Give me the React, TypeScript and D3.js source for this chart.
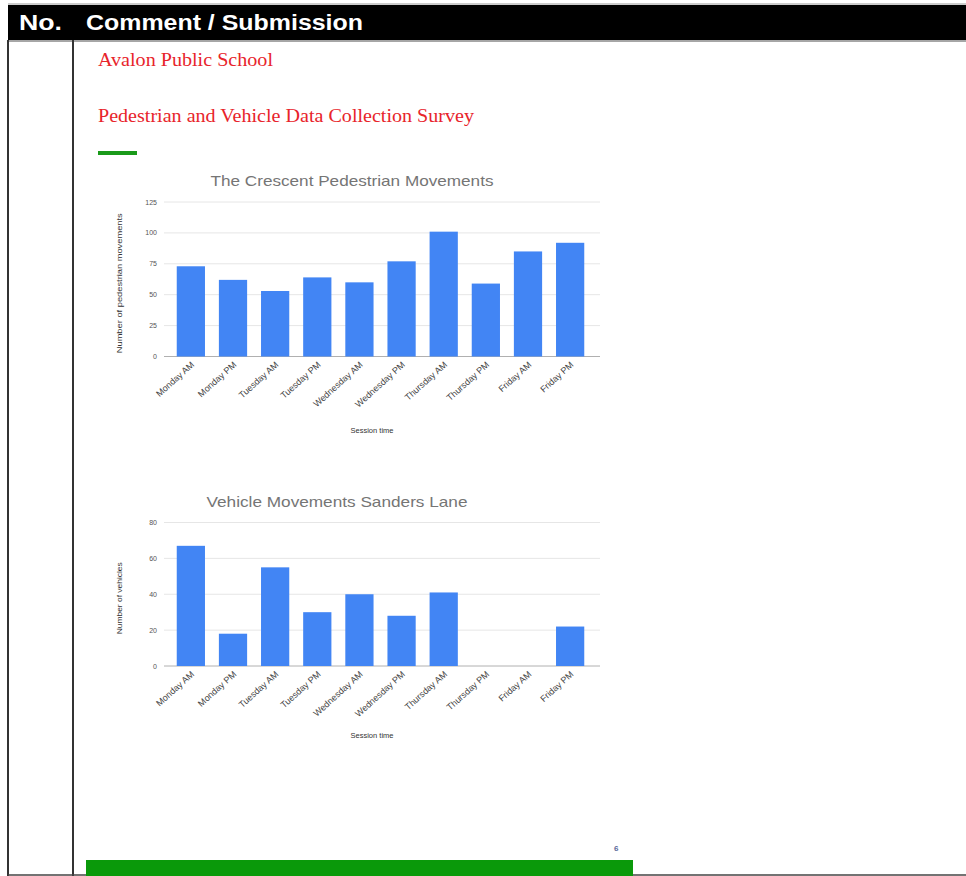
import React from "react";
import * as d3 from "d3";

const sessions = [
  "Monday AM", "Monday PM", "Tuesday AM", "Tuesday PM", "Wednesday AM",
  "Wednesday PM", "Thursday AM", "Thursday PM", "Friday AM", "Friday PM",
];
const pedestrianValues = [73, 62, 53, 64, 60, 77, 101, 59, 85, 92];
const vehicleValues = [67, 18, 55, 30, 40, 28, 41, 0, 0, 22];
const pedestrianTicks = [0, 25, 50, 75, 100, 125];
const vehicleTicks = [0, 20, 40, 60, 80];

const BAR = "#4285F4";

type ChartProps = {
  title: string;
  yTitle: string;
  values: number[];
  ticks: number[];
  yMax: number;
  top: number;
  bottom: number;
  titleX: number;
  titleY: number;
  xTitleY: number;
  titleLen: number;
  yTitleLen: number;
};

function BarChart(p: ChartProps) {
  const x = d3.scaleBand<string>().domain(sessions).range([170, 591]).paddingInner(0.33).paddingOuter(0.16);
  const y = d3.scaleLinear().domain([0, p.yMax]).range([p.bottom, p.top]);
  return (
    <g>
      <text x={p.titleX} y={p.titleY} textAnchor="middle" fontFamily="Liberation Sans, Arial, sans-serif" fontSize={15} fill="#757575" textLength={p.titleLen} lengthAdjust="spacingAndGlyphs">{p.title}</text>
      {p.ticks.map((t) => (
        <g key={t}>
          <line x1={164} x2={600} y1={y(t)} y2={y(t)} stroke={t === 0 ? "#b0b0b0" : "#e6e6e6"} strokeWidth={1} />
          <text x={157} y={y(t) + 2.5} textAnchor="end" fontFamily="Liberation Sans, Arial, sans-serif" fontSize={7} fill="#555">{t}</text>
        </g>
      ))}
      {p.values.map((v, i) => (
        <rect key={sessions[i]} x={x(sessions[i])} width={x.bandwidth()} y={y(v)} height={p.bottom - y(v)} fill={BAR} />
      ))}
      {sessions.map((s) => {
        const cx = (x(s) as number) + x.bandwidth() / 2 + 4;
        const cy = p.bottom + 9;
        return (
          <text key={s} transform={`translate(${cx},${cy}) rotate(-42)`} textAnchor="end" fontFamily="Liberation Sans, Arial, sans-serif" fontSize={9} fill="#444">{s}</text>
        );
      })}
      <text transform={`translate(122,${(p.top + p.bottom) / 2 + 4}) rotate(-90)`} textAnchor="middle" fontFamily="Liberation Sans, Arial, sans-serif" fontSize={7} fill="#333" textLength={p.yTitleLen} lengthAdjust="spacingAndGlyphs">{p.yTitle}</text>
      <text x={372} y={p.xTitleY} textAnchor="middle" fontFamily="Liberation Sans, Arial, sans-serif" fontSize={7.5} fill="#333">Session time</text>
    </g>
  );
}

export default function App() {
  return (
    <svg width={966} height={876} style={{ position: "absolute", left: 0, top: 0, background: "#fff" }}>
      <rect x={0} y={0} width={966} height={876} fill="#fff" />
      {/* header */}
      <line x1={8} x2={966} y1={4} y2={4} stroke="#999" strokeWidth={1} />
      <rect x={8} y={5} width={958} height={35} fill="#000" />
      <line x1={8} x2={966} y1={41} y2={41} stroke="#888" strokeWidth={1.5} />
      <text x={19} y={30} fontFamily="Liberation Sans, Arial, sans-serif" fontWeight="bold" fontSize={22} fill="#fff" textLength={43} lengthAdjust="spacingAndGlyphs">No.</text>
      <text x={86} y={30} fontFamily="Liberation Sans, Arial, sans-serif" fontWeight="bold" fontSize={22} fill="#fff" textLength={277} lengthAdjust="spacingAndGlyphs">Comment / Submission</text>
      {/* table lines */}
      <line x1={8} x2={8} y1={40} y2={876} stroke="#333" strokeWidth={2} />
      <line x1={73} x2={73} y1={40} y2={876} stroke="#333" strokeWidth={2} />
      <line x1={8} x2={966} y1={875} y2={875} stroke="#444" strokeWidth={1.5} />
      {/* document page */}
      <text x={98} y={66} fontFamily="Liberation Serif, Times New Roman, serif" fontSize={18} fill="#e8242b" textLength={175} lengthAdjust="spacingAndGlyphs">Avalon Public School</text>
      <text x={98} y={122} fontFamily="Liberation Serif, Times New Roman, serif" fontSize={18} fill="#e8242b" textLength={376} lengthAdjust="spacingAndGlyphs">Pedestrian and Vehicle Data Collection Survey</text>
      <rect x={98} y={151} width={39} height={4} fill="#1a9a1a" />
      <BarChart title="The Crescent Pedestrian Movements" yTitle="Number of pedestrian movements" values={pedestrianValues} ticks={pedestrianTicks} yMax={125} top={202} bottom={356.5} titleX={352} titleY={186} xTitleY={433} titleLen={283} yTitleLen={140} />
      <BarChart title="Vehicle Movements Sanders Lane" yTitle="Number of vehicles" values={vehicleValues} ticks={vehicleTicks} yMax={80} top={522.5} bottom={666} titleX={337} titleY={507} xTitleY={738} titleLen={261} yTitleLen={72} />
      <text x={614} y={851} fontFamily="Liberation Sans, Arial, sans-serif" fontSize={8} fontWeight="bold" fill="#5a6a9a">6</text>
      <rect x={86} y={860} width={547} height={16} fill="#0a990a" />
    </svg>
  );
}
